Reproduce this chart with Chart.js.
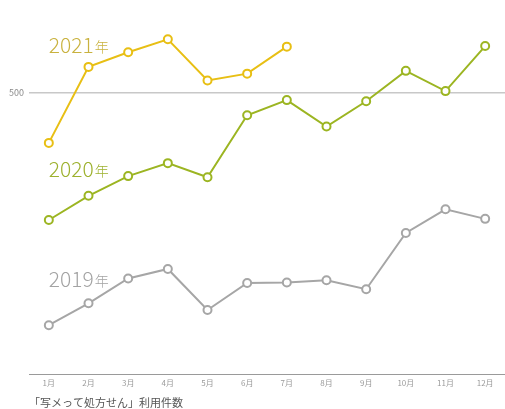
<!DOCTYPE html>
<html>
<head>
<meta charset="utf-8">
<script src="https://cdn.jsdelivr.net/npm/chart.js@4"></script>
<style>
    html, body { margin: 0; padding: 0; background: #fff; }
    #wrap { width: 505px; height: 409px; }
</style>
</head>
<body>
<div id="wrap"><canvas id="usageChart"></canvas></div>
<script>
// Data
const months = ['1月', '2月', '3月', '4月', '5月', '6月', '7月', '8月', '9月', '10月', '11月', '12月'];
const usage2019 = [87, 126, 170, 187, 114, 162, 163, 167, 151, 251, 293, 276];
const usage2020 = [274, 317, 352, 375, 350, 460, 487, 440, 485, 539, 503, 583];
const usage2021 = [411, 546, 572, 595, 522, 534, 582];
const yTicks = [500];
const caption = '「写メって処方せん」利用件数';

// Year labels next to each line (value = baseline on the y scale)
const yearLabels = [
    { year: '2021', color: '#c9b23f', value: 570 },
    { year: '2020', color: '#9db12e', value: 351 },
    { year: '2019', color: '#a3a3a3', value: 155 }
];

const fontFamily = '"Noto Sans CJK JP", "Noto Sans", sans-serif';

// Draw "2021年" style labels
const yearLabelPlugin = {
    id: 'yearLabels',
    afterDatasetsDraw(chart) {
        const ctx = chart.ctx;
        const x = chart.scales.x.getPixelForValue(0);
        ctx.save();
        ctx.textBaseline = 'alphabetic';
        ctx.textAlign = 'left';
        yearLabels.forEach(item => {
            const y = chart.scales.y.getPixelForValue(item.value);
            ctx.fillStyle = item.color;
            ctx.font = '300 21px ' + fontFamily;
            ctx.fillText(item.year, x, y);
            const w = ctx.measureText(item.year).width;
            ctx.font = '300 14px ' + fontFamily;
            ctx.fillText('年', x + w + 1, y - 1);
        });
        ctx.restore();
    }
};

function lineDataset(label, data, color) {
    return {
        label: label,
        data: data,
        borderColor: color,
        backgroundColor: '#ffffff',
        pointBackgroundColor: '#ffffff',
        pointBorderColor: color,
        pointBorderWidth: 2,
        pointRadius: 4,
        borderWidth: 2,
        tension: 0,
        fill: false
    };
}

const ctx = document.getElementById('usageChart').getContext('2d');
new Chart(ctx, {
    type: 'line',
    data: {
        labels: months,
        datasets: [
            lineDataset('2019年', usage2019, '#a6a6a6'),
            lineDataset('2020年', usage2020, '#9cb522'),
            lineDataset('2021年', usage2021, '#e8bf14')
        ]
    },
    options: {
        responsive: true,
        maintainAspectRatio: false,
        animation: false,
        layout: { autoPadding: false, padding: { top: 14, right: 0, bottom: 0, left: 0 } },
        scales: {
            x: {
                offset: true,
                grid: { display: false, drawTicks: false },
                border: { display: true, color: '#9a9a9a', width: 1 },
                ticks: {
                    color: '#9a9a9a',
                    font: { family: fontFamily, size: 8 },
                    padding: 4,
                    maxRotation: 0,
                    autoSkip: false
                }
            },
            y: {
                min: 0,
                max: 640,
                afterBuildTicks: axis => {
                    axis.ticks = yTicks.map(v => ({ value: v }));
                },
                afterFit: axis => {
                    axis.width = 29;
                },
                grid: { color: '#c8c8c8', lineWidth: 1.5, drawTicks: false },
                border: { display: false },
                ticks: {
                    color: '#8a8a8a',
                    font: { family: fontFamily, size: 9 },
                    padding: 5
                }
            }
        },
        plugins: {
            legend: { display: false },
            tooltip: { enabled: false },
            title: {
                display: true,
                text: caption,
                position: 'bottom',
                align: 'start',
                fullSize: false,
                color: '#555555',
                font: { family: fontFamily, size: 11, weight: 'normal' },
                padding: { top: 4, bottom: 0 }
            }
        }
    },
    plugins: [yearLabelPlugin]
});
</script>
</body>
</html>
